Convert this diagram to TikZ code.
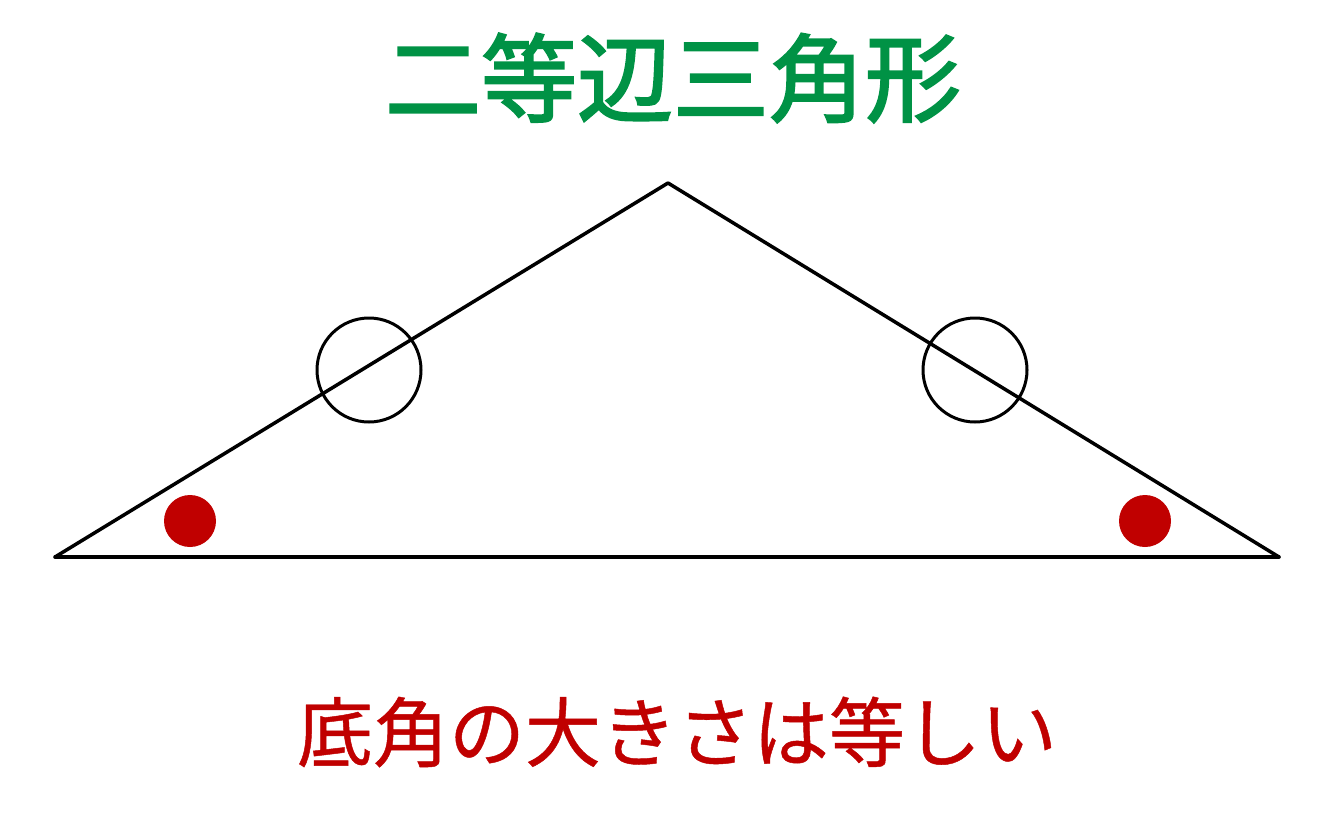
\documentclass[tikz,border=0pt]{standalone}
\usepackage{fontspec}
\newfontfamily\cjk{Noto Sans CJK JP}
\newfontfamily\cjktitle{Noto Sans CJK JP}[FakeBold=2.2]
\newfontfamily\cjkcap{Noto Sans CJK JP}[FakeBold=0.6]
\definecolor{titlegreen}{RGB}{0,146,69}
\definecolor{darkred}{RGB}{192,0,0}
\begin{document}
\begin{tikzpicture}[x=1pt,y=-1pt,
  side/.style={line width=3.5pt,line cap=round},
  marker/.style={draw=black,line width=3pt},
  dot/.style={fill=darkred},
  title/.style={text=titlegreen,font=\cjktitle\fontsize{96}{110}\selectfont,inner sep=0pt},
  caption/.style={text=darkred,font=\cjkcap\fontsize{76}{90}\selectfont,inner sep=0pt}]
\useasboundingbox (0,0) rectangle (1333,833);
\coordinate (A) at (668,183);
\coordinate (B) at (55,557);
\coordinate (C) at (1279,557);
\draw[side] (A) -- (B);
\draw[side] (A) -- (C);
\draw[side] (B) -- (C);
\node[marker,circle,minimum size=104pt,inner sep=0pt] (m1) at (369,370) {};
\node[marker,circle,minimum size=104pt,inner sep=0pt] (m2) at (975,370) {};
\fill[dot] (190,521) circle (26);
\fill[dot] (1145,521) circle (26);
\node[title] (t) at (673,78) {二等辺三角形};
\node[caption] (c) at (677,732) {底角の大きさは等しい};
\end{tikzpicture}
\end{document}
